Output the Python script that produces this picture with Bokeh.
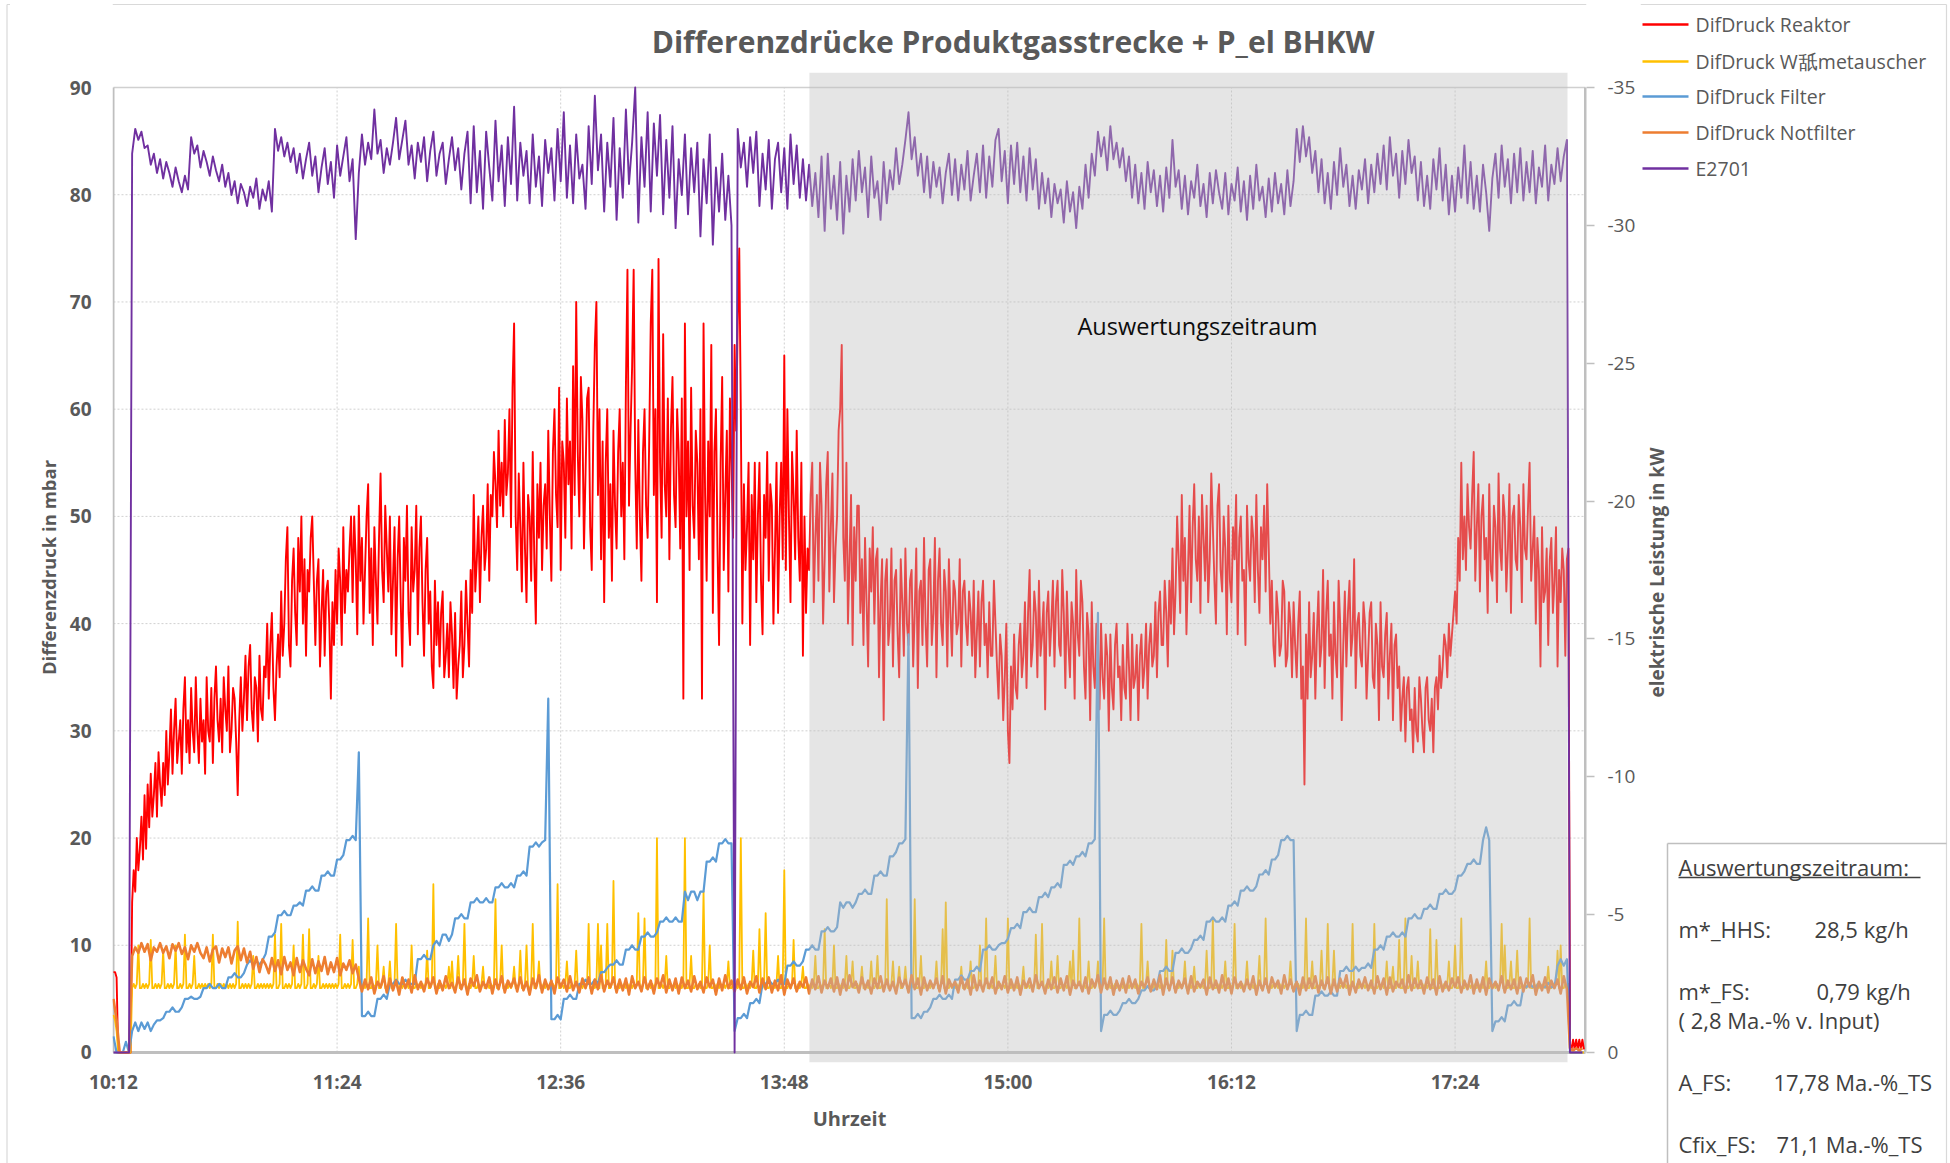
import math
from bokeh.plotting import figure
from bokeh.layouts import row, column
from bokeh.models import Range1d, LinearAxis, FixedTicker, BoxAnnotation, Label
from bokeh.embed import file_html
from bokeh.resources import INLINE
from bokeh.core.properties import value

# ---------------- texts / categories ----------------
TITLE = "Differenzdrücke Produktgasstrecke + P_el BHKW"
Y_LABEL = "Differenzdruck in mbar"
Y2_LABEL = "elektrische Leistung in kW"
X_LABEL = "Uhrzeit"
X_TICKS = [612, 684, 756, 828, 900, 972, 1044]          # minutes after midnight
X_TICK_LABELS = ["10:12", "11:24", "12:36", "13:48", "15:00", "16:12", "17:24"]
Y_TICKS = [0, 10, 20, 30, 40, 50, 60, 70, 80, 90]
Y2_TICKS = [-35, -30, -25, -20, -15, -10, -5, 0]
Y2_TICK_LABELS = ["-35", "-30", "-25", "-20", "-15", "-10", "-5", "0"]
SERIES_NAMES = ["DifDruck Reaktor", "DifDruck W舐metauscher", "DifDruck Filter",
                "DifDruck Notfilter", "E2701"]
COLORS = ["#FF0000", "#FFC000", "#5B9BD5", "#ED7D31", "#7030A0"]
EVAL_LABEL = "Auswertungszeitraum"
EVAL_START = 836.1     # minutes (13:56)
EVAL_END = 1080.2      # minutes (18:00)
BOX_TITLE = "Auswertungszeitraum:"
BOX_KEYS = ["m*_HHS:", "m*_FS:", "( 2,8 Ma.-% v. Input)", "A_FS:", "Cfix_FS:"]
BOX_VALUES = ["28,5 kg/h", "0,79 kg/h", "", "17,78 Ma.-%_TS", "71,1 Ma.-%_TS"]

T_START = 612          # 10:12
FAST_STEP = 0.5        # min
SLOW_STEP = 1.0        # min

# DifDruck Reaktor [mbar], every 30 s from 10:12
reaktor = [
 7.5,7.5,7,0,0,0,0,0,0,0,0,0,14,17,15,20,17,19,22,18,
 24,19,25,21,26,22,24,27,22,28,25,23,27,24,30,25,28,32,26,30,
 33,27,29,31,26,32,35,28,31,27,34,30,28,35,30,27,33,29,31,26,
 35,30,29,34,27,33,36,31,29,33,28,35,32,30,36,28,30,34,33,29,
 24,31,35,30,33,37,31,36,38,32,30,35,34,29,37,32,31,36,35,40,
 33,38,41,34,31,36,39,35,43,37,40,46,49,38,36,44,47,41,38,48,
 43,50,40,46,37,45,43,48,50,44,38,44,46,36,41,45,37,43,44,40,
 33,42,38,45,40,47,44,38,49,41,45,43,47,50,42,50,46,39,51,44,
 48,40,45,50,53,41,47,38,49,44,40,48,54,45,42,51,47,43,50,39,
 44,49,37,46,50,42,36,48,44,51,41,38,49,43,45,51,39,47,50,42,
 37,45,48,40,43,36,34,44,38,42,36,41,43,35,37,40,35,42,39,34,
 41,33,36,38,43,35,38,44,40,36,45,41,52,43,46,50,42,48,51,45,
 47,53,44,52,50,56,53,49,58,51,55,50,59,52,54,60,49,62,68,50,
 45,54,49,43,55,47,42,52,50,44,56,46,40,53,48,55,45,51,53,47,
 58,50,44,56,60,52,49,62,45,57,55,48,61,53,57,47,64,52,70,56,
 50,63,59,47,54,61,62,49,45,58,66,70,52,60,46,57,42,55,60,48,
 53,44,58,51,47,56,60,50,55,46,62,73,51,58,64,73,55,47,59,50,
 44,56,60,51,48,57,68,73,52,60,42,74,55,48,67,53,50,61,46,58,
 63,52,49,60,56,47,61,33,68,50,57,45,62,51,48,58,55,46,60,33,
 68,52,44,57,50,66,41,56,60,47,38,55,63,45,52,58,43,61,55,48,
 66,58,68,75,60,40,53,45,49,55,38,52,46,55,42,50,55,44,39,52,
 48,56,44,53,51,40,47,55,41,50,55,46,65,45,60,50,42,56,52,46,
 58,48,44,55,37,50,41,47,45,52,55,42,48,52,44,55,51,40,46,53,
 56,43,49,54,42,47,50,58,60,66,48,44,55,40,46,52,38,49,44,51,
 51,41,46,38,48,42,36,47,43,49,40,46,47,35,42,46,31,44,46,38,
 40,47,36,44,45,39,35,46,42,37,47,40,38,44,45,36,41,47,34,43,
 44,38,48,40,36,45,46,38,41,48,35,44,47,40,38,45,43,36,46,41,
 37,44,43,39,40,46,36,43,44,40,38,43,41,37,44,35,39,43,36,42,
 44,38,40,35,42,37,37,44,40,36,33,39,37,31,35,40,30,27,36,32,
 39,34,33,38,40,35,37,42,34,41,45,36,38,43,41,35,44,37,39,42,
 32,41,43,37,40,44,36,42,44,38,37,45,41,34,43,38,35,42,40,33,
 45,39,37,44,42,36,33,41,39,31,42,36,34,40,38,32,40,35,33,39,
 37,30,39,34,32,38,40,35,36,31,38,34,33,40,36,31,39,34,35,38,
 31,37,39,34,36,40,33,38,40,36,37,42,35,41,43,38,38,44,41,36,
 44,40,47,39,43,50,46,41,52,44,48,39,45,51,42,49,53,46,44,50,
 41,52,48,44,51,42,46,54,49,44,40,51,53,45,43,50,47,39,51,44,
 42,49,46,52,39,48,50,44,45,38,51,46,44,50,48,42,52,45,41,49,
 46,51,43,53,47,40,44,38,36,43,41,37,38,44,43,36,37,42,40,35,
 42,38,35,40,43,33,36,25,39,33,42,35,37,41,33,39,43,36,38,45,
 34,41,44,37,39,33,42,37,35,44,40,31,38,43,36,41,44,37,39,46,
 34,40,41,37,36,42,40,33,37,41,42,35,34,40,38,31,42,36,35,39,
 41,33,37,40,31,38,39,34,36,30,33,35,29,34,35,31,32,28,34,30,
 29,35,33,30,28,34,35,31,30,33,28,34,35,32,37,34,36,39,38,35,
 40,37,39,41,43,40,48,44,55,46,50,45,53,49,47,52,56,44,49,53,
 43,50,52,46,48,41,53,45,44,51,49,42,54,47,45,52,50,43,47,53,
 41,50,51,46,45,52,49,42,53,47,46,51,55,44,47,50,40,48,45,36,
 49,42,43,47,38,46,48,41,44,49,36,45,42,47,45,37,46,47,0.8,0.3,
 1.2,0.3,1.2,0.3,1.2,0.3,1.2,0.3,
]

# E2701 electrical power [kW], every minute from 10:12
e2701 = [
 0,0,0,0,0,0,
 -32.6,-33.5,-33.1,-33.4,-32.8,-32.9,-32.2,-32.6,-31.9,-32.4,
 -31.7,-32.3,-31.9,-31.4,-32.1,-31.6,-31.2,-31.8,-31.3,-33.2,
 -32.6,-32.9,-32.1,-32.7,-32.3,-31.8,-32.5,-32.0,-31.6,-32.2,
 -31.4,-31.9,-31.1,-31.6,-30.8,-31.5,-31.2,-30.7,-31.4,-31.0,
 -31.7,-30.6,-31.3,-30.9,-31.6,-30.5,-33.5,-32.7,-33.2,-32.5,
 -33.0,-32.3,-32.8,-31.9,-32.6,-31.7,-32.4,-33.0,-31.8,-32.5,
 -31.2,-32.1,-32.8,-31.5,-32.3,-31.0,-32.9,-31.8,-32.5,-33.2,
 -31.6,-32.4,-29.5,-31.9,-33.3,-32.2,-33.0,-32.4,-34.2,-32.6,
 -33.1,-31.9,-32.8,-32.2,-33.0,-33.9,-32.4,-33.1,-33.8,-32.2,
 -32.9,-31.7,-33.0,-32.3,-33.2,-31.6,-32.7,-33.4,-31.8,-32.6,
 -33.0,-31.5,-32.4,-33.2,-32.0,-32.8,-31.3,-32.6,-33.4,-30.8,
 -33.6,-31.2,-32.7,-30.6,-33.4,-32.1,-30.9,-33.8,-31.6,-32.9,
 -30.7,-33.2,-31.5,-34.3,-30.9,-33.0,-31.8,-32.7,-30.8,-33.3,
 -31.4,-32.5,-30.7,-33.1,-31.9,-32.8,-30.9,-33.5,-31.6,-34.1,
 -31.0,-32.9,-30.8,-33.3,-31.7,-32.2,-30.6,-33.6,-31.5,-34.7,
 -32.0,-33.3,-30.5,-33.0,-31.4,-33.9,-30.2,-32.8,-31.0,-34.2,
 -31.5,-33.0,-35.0,-30.1,-33.2,-31.4,-34.1,-30.5,-33.7,-31.8,
 -34.0,-30.4,-33.1,-31.0,-33.6,-29.9,-32.4,-31.1,-33.3,-30.4,
 -32.8,-31.2,-33.0,-29.6,-32.4,-30.8,-33.3,-29.3,-32.1,-30.5,
 -32.6,-30.2,-31.8,-30.0,0,-33.5,-32.1,-33.0,-31.4,-33.2,
 -31.9,-33.4,-30.7,-32.6,-31.3,-33.1,-30.6,-32.4,-33.0,-31.2,
 -32.8,-30.6,-33.3,-31.5,-32.9,-31.0,-32.4,-30.9,-32.2,-30.7,
 -31.9,-30.3,-32.5,-29.8,-32.6,-30.6,-31.8,-30.2,-32.3,-29.7,
 -31.8,-30.5,-32.4,-30.9,-32.7,-31.2,-32.1,-30.3,-32.5,-31.0,
 -31.6,-30.2,-32.3,-30.8,-32.0,-31.3,-32.8,-31.5,-32.2,-33.1,
 -34.1,-32.4,-33.2,-31.8,-32.6,-31.2,-32.5,-31.0,-32.3,-31.4,
 -32.1,-30.8,-31.9,-32.6,-31.1,-32.4,-30.9,-32.2,-31.3,-32.7,
 -30.9,-31.8,-32.6,-31.2,-32.9,-31.0,-32.5,-31.4,-33.1,-33.5,
 -31.6,-32.7,-30.8,-32.9,-31.5,-33.0,-31.2,-32.5,-30.9,-32.8,
 -31.3,-32.4,-30.6,-31.9,-30.8,-31.7,-30.3,-31.5,-30.8,-31.3,
 -30.1,-31.6,-30.5,-31.2,-29.9,-31.4,-30.6,-32.2,-31.0,-32.6,
 -31.8,-33.4,-32.5,-33.2,-32.0,-33.6,-32.4,-33.0,-32.1,-32.8,
 -31.6,-32.5,-31.0,-32.2,-30.8,-31.9,-30.6,-32.3,-31.2,-32.0,
 -30.7,-31.8,-30.5,-32.1,-31.0,-33.1,-31.4,-32.0,-30.6,-31.8,
 -30.4,-31.6,-31.0,-32.2,-30.7,-31.5,-30.3,-31.9,-30.8,-32.0,
 -31.2,-30.6,-31.9,-30.4,-31.5,-30.9,-32.1,-30.5,-31.6,-30.2,
 -31.8,-30.6,-32.2,-30.9,-31.4,-30.3,-31.7,-30.5,-31.9,-30.8,
 -31.5,-30.4,-32.0,-30.7,-31.6,-33.5,-32.3,-33.6,-32.5,-33.2,
 -31.9,-32.7,-31.2,-32.4,-30.8,-31.9,-30.6,-32.3,-31.1,-32.8,
 -31.4,-32.2,-30.7,-31.8,-30.6,-32.0,-31.3,-32.4,-30.8,-32.2,
 -31.2,-32.6,-31.5,-32.9,-31.3,-33.2,-31.8,-32.6,-31.0,-32.7,
 -31.5,-33.1,-31.9,-32.5,-30.9,-32.3,-30.7,-31.8,-30.6,-32.4,
 -31.3,-32.8,-30.9,-32.2,-30.4,-31.8,-30.5,-32.1,-31.0,-32.9,
 -30.8,-32.3,-30.6,-31.8,-30.5,-32.2,-31.2,-29.8,-31.7,-32.6,
 -31.0,-32.9,-31.4,-32.4,-30.8,-32.6,-31.2,-32.8,-30.9,-32.3,
 -31.2,-32.7,-30.8,-32.1,-31.4,-32.9,-30.9,-32.2,-31.5,-32.8,
 -31.6,-32.5,-33.1,0,
 0,0,0,0,
]

# DifDruck Filter [mbar], every minute from 10:12
filt = [
 1.5,0,0,0,1,0,2.0,2.8,2.0,2.8,
 2.2,2.8,2.0,2.6,3.0,3.0,3.2,3.8,3.8,4.2,
 3.8,3.8,4.2,5.0,5.0,5.2,5.0,5.0,5.2,6.0,
 6.0,6.4,6.0,6.0,6.4,6.0,6.0,7.0,7.0,7.4,
 7.0,7.0,7.4,8.2,8.6,8.2,8.6,8.2,8.6,9.2,
 10.8,10.8,11.2,12.8,12.8,13.2,12.8,12.8,13.7,13.7,
 14.0,13.7,15.1,15.1,15.5,15.1,15.1,16.5,16.5,16.9,
 16.5,16.5,18.0,18.0,18.4,19.8,19.8,20.2,19.8,28,
 3.4,3.4,3.8,3.4,3.4,5.0,5.0,5.4,5.0,6.4,
 6.4,6.8,6.4,6.4,6.8,6.4,6.4,6.4,8.7,8.7,
 9.1,8.7,8.7,10.0,10.4,10.0,11.0,11.0,10.4,11.0,
 12.5,12.5,12.9,12.5,12.5,14.0,14.0,14.4,14.0,14.0,
 14.4,14.0,14.0,15.4,15.4,15.8,15.4,15.4,15.8,15.4,
 16.5,16.5,16.9,16.5,19.2,19.2,19.6,19.2,19.6,19.8,
 33,3.1,3.1,3.5,3.1,5.0,5.0,5.4,5.0,5.0,
 6.4,6.4,6.8,6.4,6.4,6.8,6.4,7.5,7.5,7.9,
 8.2,8.2,8.6,8.2,8.2,9.6,9.6,10.0,9.6,9.6,
 10.8,10.8,11.2,10.8,10.8,11.2,12.2,12.2,12.6,12.2,
 12.2,12.6,12.2,12.2,15.0,14.2,15.0,15.0,14.2,15.0,
 15.0,17.8,17.8,18.2,17.8,19.5,19.5,19.9,19.5,19.5,
 2.0,3.2,3.2,3.6,3.2,4.6,4.6,5.0,4.6,6.4,
 6.4,6.8,6.4,6.4,6.8,6.4,6.4,8.1,8.1,8.5,
 8.1,8.1,8.5,9.6,9.6,10.0,9.6,9.6,11.3,11.3,
 11.7,11.3,11.3,11.7,14.0,13.5,14.0,14.0,13.5,14.0,
 14.8,14.8,15.2,14.8,14.8,16.5,16.5,16.9,16.5,16.5,
 18.3,18.3,18.7,19.5,19.5,19.9,39,3.2,3.2,3.6,
 3.2,3.8,3.8,4.2,5.0,5.0,5.4,5.0,5.0,5.4,
 5.0,6.8,6.8,7.2,6.8,6.8,7.6,7.6,8.0,7.6,
 9.6,9.6,10.0,9.6,9.6,10.0,10.2,10.2,10.6,11.6,
 11.6,12.0,11.6,13.1,13.1,13.5,13.1,13.1,14.5,14.5,
 14.9,14.5,15.4,15.4,15.8,15.4,17.5,17.5,17.9,17.5,
 18.3,18.3,18.7,18.3,19.5,19.5,19.9,41,2.0,3.5,
 3.5,3.9,3.5,3.5,3.9,4.6,4.6,5.0,4.6,4.6,
 5.0,5.8,5.8,6.2,5.8,5.8,6.2,7.6,7.6,8.0,
 7.6,7.6,9.3,9.3,9.7,9.3,9.3,9.7,10.5,10.5,
 10.9,10.5,12.2,12.2,12.6,12.2,12.2,12.6,12.2,13.7,
 13.7,14.1,13.7,15.1,15.1,15.5,15.1,15.1,15.5,16.6,
 16.6,17.0,16.6,18.0,18.0,18.4,19.8,19.8,20.2,19.8,
 19.8,2.0,3.5,3.5,3.9,3.5,3.5,5.3,5.3,5.7,
 5.3,5.3,5.7,5.3,5.3,7.6,7.6,8.0,7.6,7.6,
 8.0,7.6,7.9,7.9,8.3,7.9,9.6,9.6,10.0,9.6,
 10.8,10.8,11.2,10.8,10.8,11.2,10.8,12.5,12.5,12.9,
 12.5,12.5,13.4,13.4,13.8,13.4,13.4,14.8,14.8,15.2,
 14.8,14.8,15.2,16.5,16.5,16.9,17.6,17.6,18.0,17.6,
 17.6,19.8,21,19.8,2.0,2.9,2.9,3.3,2.9,4.4,
 4.4,4.8,4.4,4.4,6.1,6.1,6.5,6.1,6.1,6.5,
 6.1,6.1,6.5,6.1,6.1,8.1,8.7,8.1,8.7,0,
 0,0,0,0,
]

# DifDruck Waermetauscher [mbar], every 30 s from 10:12
waerme = [
 3.5,3.0,2,0,0,0,0,0,0,0,0,0,6.0,6.4,6.0,6.4,10,6.0,6.0,6.4,
 6.0,6.4,6.0,6.4,10.5,6.0,6.0,6.4,6.0,6.4,6.0,6.4,9.5,6.0,6.0,6.4,6.0,6.4,6.0,6.4,
 10,6.0,6.0,6.4,6.0,6.4,11,6.0,6.0,6.4,6.0,6.4,9,6.0,6.0,6.4,6.0,6.4,6.0,6.4,
 6.0,6.4,6.0,6.4,11,6.0,6.0,6.4,6.0,6.4,6.0,6.4,6.0,6.4,6.0,6.4,6.0,6.4,6.0,6.4,
 12.2,6.0,6.0,6.4,6.0,6.4,6.0,6.4,6.0,6.4,9,6.0,6.0,6.4,6.0,6.4,6.0,6.4,6.0,6.4,
 6.0,6.4,6.0,6.4,11,6.0,6.0,6.4,12,6.0,6.0,6.4,6.0,6.4,6.0,6.4,10,6.0,6.0,6.4,
 6.0,6.4,11,6.0,6.0,6.4,11.5,6.0,6.0,6.4,6.0,6.4,9,6.0,6.0,6.4,6.0,6.4,6.0,6.4,
 6.0,6.4,6.0,6.4,6.0,6.4,11,6.0,6.0,6.4,6.0,6.4,6.0,6.4,10.5,6.0,6.0,6.4,8,6.0,
 6.0,6.4,6.0,6.4,12.5,6.0,6.0,6.4,6.0,6.4,10,6.0,6.0,6.4,8,6.0,6.0,6.4,8.5,6.0,
 6.0,6.4,12,6.0,6.0,6.4,6.0,6.4,6.0,6.4,6.0,6.4,10,6.0,6.0,6.4,6.0,6.4,6.0,6.4,
 6.0,6.4,9.5,6.0,6.0,6.4,15.7,6.0,6.0,6.4,6.0,6.4,6.0,6.4,6.0,6.4,8,6.0,8.5,6.0,
 6.0,6.4,9,6.0,6.0,6.4,12,6.0,6.0,6.4,6.0,6.4,9,6.0,6.0,6.4,6.0,6.4,8,6.0,
 6.0,6.4,6.0,6.4,6.0,6.4,14.3,6.0,6.0,6.4,10,6.0,6.0,6.4,6.0,6.4,6.0,6.4,8,6.0,
 6.0,6.4,9.5,6.0,6.0,6.4,10,6.0,6.0,6.4,12,6.0,6.0,6.4,8.5,6.0,6.0,6.4,6.0,6.4,
 6.0,6.4,6.0,6.4,6.0,6.4,15.7,6.0,6.0,6.4,6.0,6.4,8.5,6.0,6.0,6.4,6.0,6.4,9.5,6.0,
 6.0,6.4,6.0,6.4,6.0,6.4,12,6.0,6.0,6.4,6.0,6.4,12,6.0,10,6.0,6.0,6.4,12,6.0,
 6.0,6.4,16,6.0,6.0,6.4,6.0,6.4,6.0,6.4,6.0,6.4,6.0,6.4,6.0,6.4,6.0,6.4,13,6.0,
 6.0,6.4,12.5,6.0,6.0,6.4,6.0,6.4,6.0,6.4,20,6.0,6.0,6.4,6.0,6.4,9,6.0,6.0,6.4,
 6.0,6.4,6.0,6.4,6.0,6.4,6.0,6.4,20,6.0,6.0,6.4,9,6.0,6.0,6.4,6.0,6.4,6.0,6.4,
 15,6.0,6.0,6.4,10,6.0,6.0,6.4,6.0,6.4,6.0,6.4,6.0,6.4,6.0,6.4,8.5,6.0,6.0,6.4,
 6.0,6.4,6.0,6.4,20,6.0,6.0,6.4,6.0,6.4,6.0,6.4,9.5,6.0,6.0,6.4,11.5,6.0,6.0,6.4,
 13,6.0,6.0,6.4,6.0,6.4,6.0,6.4,9,6.0,6.0,6.4,17,6.0,6.0,6.4,6.0,6.4,10.5,6.0,
 6.0,6.4,6.0,6.4,8,6.0,6.0,6.4,6.0,6.4,6.0,6.4,9,6.0,6.0,6.4,6.0,6.4,11.5,6.0,
 6.0,6.4,6.0,6.4,10,6.0,6.0,6.4,6.0,6.4,6.0,6.4,9,6.0,6.0,6.4,8.5,6.0,6.0,6.4,
 6.0,6.4,8,6.0,6.0,6.4,6.0,6.4,8.5,6.0,6.0,6.4,9,6.0,6.0,6.4,6.0,6.4,14.3,6.0,
 6.0,6.4,8.5,6.0,6.0,6.4,8,6.0,6.0,6.4,8,6.0,6.0,6.4,6.0,6.4,14.3,6.0,6.0,6.4,
 9,6.0,6.0,6.4,6.0,6.4,6.0,6.4,6.0,6.4,8.5,6.0,6.0,6.4,11.5,6.0,14,6.0,6.0,6.4,
 6.0,6.4,6.0,6.4,6.0,6.4,8,6.0,6.0,6.4,6.0,6.4,8.5,6.0,6.0,6.4,6.0,6.4,10,6.0,
 6.0,6.4,12.5,6.0,6.0,6.4,6.0,6.4,9,6.0,6.0,6.4,6.0,6.4,6.0,6.4,12.5,6.0,6.0,6.4,
 6.0,6.4,6.0,6.4,6.0,6.4,8,6.0,6.0,6.4,6.0,6.4,6.0,6.4,11,6.0,6.0,6.4,12,6.0,
 6.0,6.4,6.0,6.4,8.5,6.0,6.0,6.4,9,6.0,6.0,6.4,6.0,6.4,6.0,6.4,8.5,6.0,9.5,6.0,
 6.0,6.4,12.5,6.0,6.0,6.4,6.0,6.4,8.5,6.0,6.0,6.4,6.0,6.4,8.5,6.0,6.0,6.4,12.5,6.0,
 6.0,6.4,6.0,6.4,6.0,6.4,6.0,6.4,6.0,6.4,6.0,6.4,6.0,6.4,6.0,6.4,6.0,6.4,6.0,6.4,
 6.0,6.4,12,6.0,6.0,6.4,8.5,6.0,6.0,6.4,6.0,6.4,6.0,6.4,6.0,6.4,6.0,6.4,10.5,6.0,
 6.0,6.4,9.5,6.0,6.0,6.4,6.0,6.4,6.0,6.4,8.5,6.0,6.0,6.4,6.0,6.4,8,6.0,6.0,6.4,
 6.0,6.4,6.0,6.4,9.5,6.0,6.0,6.4,12.5,6.0,6.0,6.4,6.0,6.4,6.0,6.4,8.5,6.0,6.0,6.4,
 6.0,6.4,12,6.0,6.0,6.4,6.0,6.4,6.0,6.4,8.5,6.0,6.0,6.4,6.0,6.4,6.0,6.4,9,6.0,
 6.0,6.4,12.5,6.0,6.0,6.4,6.0,6.4,6.0,6.4,6.0,6.4,6.0,6.4,6.0,6.4,6.0,6.4,8.5,6.0,
 6.0,6.4,6.0,6.4,6.0,6.4,6.0,6.4,12.5,6.0,6.0,6.4,8.5,6.0,6.0,6.4,6.0,6.4,9.5,6.0,
 6.0,6.4,12,6.0,6.0,6.4,9.5,6.0,6.0,6.4,6.0,6.4,6.0,6.4,6.0,6.4,6.0,6.4,12,6.0,
 6.0,6.4,6.0,6.4,6.0,6.4,6.0,6.4,6.0,6.4,6.0,6.4,12,6.0,6.0,6.4,6.0,6.4,6.0,6.4,
 8.5,6.0,6.0,6.4,8,6.0,6.0,6.4,10.5,6.0,6.0,6.4,12.5,6.0,6.0,6.4,9,6.0,6.0,6.4,
 8.5,6.0,6.0,6.4,6.0,6.4,6.0,6.4,11.5,6.0,6.0,6.4,10.5,6.0,6.0,6.4,6.0,6.4,6.0,6.4,
 8.5,6.0,6.0,6.4,10,6.0,6.0,6.4,12.5,6.0,6.0,6.4,6.0,6.4,6.0,6.4,6.0,6.4,6.0,6.4,
 6.0,6.4,6.0,6.4,8.5,6.0,6.0,6.4,6.0,6.4,6.0,6.4,6.0,6.4,12,6.0,10,6.0,6.0,6.4,
 8.5,6.0,6.0,6.4,9.5,6.0,6.0,6.4,6.0,6.4,6.0,6.4,12.5,6.0,6.0,6.4,6.0,6.4,6.0,6.4,
 6.0,6.4,6.0,6.4,8,6.0,6.0,6.4,6.0,6.4,9.5,6.0,10,6.0,6.0,6.4,6.0,6.4,0,0,
 0,0,0,0,0,0,0,0,
]

# DifDruck Notfilter [mbar], every minute from 10:12
notfilter = [
 5,3,0,0,0,0,9.0,9.8,9.3,10.2,
 9.4,10.1,8.6,9.8,9.4,10.2,9.3,9.9,8.8,10.1,
 9.5,10.2,9.2,9.8,8.7,10.0,9.4,10.2,9.3,8.8,
 9.8,8.5,9.6,9.9,8.4,9.7,8.9,9.8,8.3,9.5,
 9.9,8.6,9.7,8.4,9.4,7.8,8.9,7.5,8.7,8.2,
 7.4,8.8,7.6,8.6,7.3,8.9,7.7,8.4,7.2,8.8,
 7.5,8.6,7.8,7.2,8.7,7.4,8.5,7.6,8.9,7.3,
 8.4,7.5,8.8,7.2,8.3,7.7,8.6,7.4,8.2,6.9,
 5.7,6.8,5.9,7.0,5.5,6.6,6.1,7.1,5.6,6.9,
 5.8,6.7,5.4,7.0,6.0,6.8,5.6,7.2,5.9,6.6,
 5.7,6.9,6.1,7.0,5.5,6.7,5.8,7.1,6.0,6.5,
 5.6,7.0,5.9,6.8,5.4,6.9,6.2,7.2,5.7,6.6,
 6.0,7.0,5.5,6.8,5.9,7.1,5.6,6.7,6.1,6.9,
 5.7,7.0,5.8,6.6,5.4,6.9,6.0,7.2,5.6,6.8,
 5.9,6.7,5.5,7.0,6.1,6.8,5.7,7.1,5.8,6.6,
 5.6,6.9,6.0,7.0,5.5,6.8,5.9,7.2,5.7,6.7,
 6.1,7.0,5.6,6.8,5.8,6.9,5.4,7.1,6.0,6.6,
 5.7,7.0,5.9,6.7,5.5,6.9,6.1,7.2,5.6,6.8,
 5.8,6.9,5.5,7.0,6.0,6.7,5.7,7.1,5.9,6.6,
 5.6,7.0,6.1,6.8,5.4,6.9,5.8,7.2,6.0,6.7,
 5.7,6.8,5.9,7.0,5.5,6.6,6.1,7.1,5.6,6.9,
 5.9,7.0,5.6,6.7,5.8,7.2,5.4,6.8,6.0,6.9,
 5.7,6.6,6.1,7.0,5.5,6.8,5.9,7.1,5.6,6.7,
 6.0,6.9,5.7,7.0,5.4,6.8,5.8,7.2,6.1,6.6,
 5.6,7.0,5.9,6.7,5.5,6.9,6.0,7.1,5.7,6.8,
 5.8,6.6,5.5,7.0,6.1,6.8,5.6,7.2,5.9,6.9,
 5.4,7.0,5.8,6.7,6.0,6.9,5.7,7.1,5.5,6.8,
 6.1,6.6,5.6,7.0,5.9,6.8,5.4,7.2,5.8,6.7,
 5.7,6.9,6.0,7.0,5.5,6.6,5.9,7.1,5.6,6.8,
 5.8,7.0,5.4,6.7,6.1,6.9,5.7,7.2,6.0,6.6,
 5.5,6.8,5.9,7.0,5.6,6.9,5.8,7.1,5.4,6.7,
 6.0,6.6,5.7,7.0,5.5,6.8,6.1,7.2,5.6,6.9,
 5.9,7.0,5.4,6.7,5.8,6.9,5.6,7.1,6.0,6.8,
 5.5,6.6,6.1,7.0,5.7,6.8,5.9,7.2,5.4,6.9,
 5.8,7.0,5.6,6.7,6.0,6.9,5.5,7.1,5.7,6.6,
 6.1,6.8,5.4,7.0,5.9,6.7,5.6,7.2,5.8,6.9,
 5.5,7.0,6.0,6.6,5.7,6.8,5.9,7.1,5.4,6.7,
 5.8,6.9,5.6,7.0,6.1,6.7,5.5,7.2,5.9,6.8,
 5.7,6.6,5.4,7.0,5.8,6.9,6.0,7.1,5.6,6.7,
 5.9,7.0,5.5,6.8,5.7,6.9,6.1,7.2,5.4,6.6,
 5.6,6.8,6.0,7.0,5.8,6.7,5.5,7.1,5.9,6.9,
 5.4,7.0,5.7,6.6,6.1,6.8,5.6,7.2,5.8,6.9,
 6.0,6.7,5.5,7.0,5.9,6.8,5.4,7.1,5.7,6.6,
 5.8,6.9,6.1,7.0,5.6,6.7,5.9,7.2,5.5,6.8,
 5.7,7.0,5.4,6.9,6.0,6.6,5.8,7.1,5.6,6.7,
 5.9,6.8,5.5,7.0,5.7,6.9,6.1,7.2,5.4,6.6,
 5.8,7.0,5.6,6.7,6.0,6.8,5.5,7.1,5.9,0.4,
 0.2,0.4,0.2,0.4,
]

# time grids (sampling instants)
t_reaktor = [T_START + FAST_STEP * i for i in range(len(reaktor))]
t_waerme = [T_START + FAST_STEP * i for i in range(len(waerme))]
t_e2701 = [T_START + SLOW_STEP * i for i in range(len(e2701))]
t_filt = [T_START + SLOW_STEP * i for i in range(len(filt))]
t_not = [T_START + SLOW_STEP * i for i in range(len(notfilter))]

# ---------------- layout geometry (page px) ----------------
W_ALL, H_ALL = 1950, 1163
W_LEFT = 10
X_SPLIT = 1640                       # right edge of title strip / main plot
W_MAIN = X_SPLIT - W_LEFT
H_TOP = 72
F_L, F_R, F_T, F_B = 112, 1586, 72, 1062     # plot frame in page px
X_MIN, X_MAX = 612, 1086
X_LO, X_HI = 611.68, 1086.32
Y_LO, Y_HI = -0.933, 91.40
K_LO, K_HI = 0.3627, -35.544
Y_MIN, Y_MAX = 0, 90

def px_x(page_x):
    return X_LO + (page_x - F_L) * (X_HI - X_LO) / (F_R - F_L)

def px_y(page_y):
    return Y_LO + (F_B - page_y) * (Y_HI - Y_LO) / (F_B - F_T)

GRAY_TXT = "#595959"
FONT = "Open Sans"
BORDER = "#D9D9D9"

def strip(width, height, x0):
    f = figure(width=width, height=height, x_range=Range1d(x0, x0 + width),
               y_range=Range1d(height, 0), x_axis_type=None, y_axis_type=None,
               output_backend="svg", toolbar_location=None, min_border=0)
    f.outline_line_color = None
    return f

# ---------------- left strip: outer border ----------------
pl = strip(W_LEFT, H_ALL, 0)
pl.segment(x0=[6.5, 6.5], y0=[4, 4], x1=[6.5, W_LEFT], y1=[H_ALL, 4], line_color=BORDER, line_width=1.2)

# ---------------- title strip ----------------
pt = strip(W_MAIN, H_TOP, W_LEFT)
pt.text(x=[1006], y=[41], text=[TITLE], text_font=value(FONT), text_font_size="30px",
        text_font_style="bold", text_color=GRAY_TXT, text_align="center", text_baseline="middle")
pt.segment(x0=[W_LEFT], y0=[4], x1=[X_SPLIT], y1=[4], line_color=BORDER, line_width=1.2)

# ---------------- main plot ----------------
H_MAIN = H_ALL - H_TOP
p = figure(width=W_MAIN, height=H_MAIN, x_range=Range1d(X_LO, X_HI), y_range=Range1d(Y_LO, Y_HI),
           output_backend="svg", toolbar_location=None,
           min_border_left=F_L - W_LEFT, min_border_right=X_SPLIT - F_R,
           min_border_top=F_T - H_TOP, min_border_bottom=H_ALL - F_B)
p.extra_y_ranges = {"kw": Range1d(K_LO, K_HI)}
p.outline_line_color = None
p.grid.visible = False
p.background_fill_color = "white"
p.border_fill_color = "white"

xa = p.xaxis[0]
xa.ticker = FixedTicker(ticks=X_TICKS)
xa.major_label_overrides = dict(zip(X_TICKS, X_TICK_LABELS))
xa.axis_line_color = None
xa.major_tick_line_color = None
xa.major_tick_out = 0
xa.major_tick_in = 0
xa.minor_tick_line_color = None
xa.major_label_standoff = 6
xa.major_label_text_font = FONT
xa.major_label_text_font_size = "19px"
xa.major_label_text_font_style = "bold"
xa.major_label_text_color = GRAY_TXT
xa.axis_label = X_LABEL
xa.axis_label_text_font = FONT
xa.axis_label_text_font_size = "20px"
xa.axis_label_text_font_style = "bold"
xa.axis_label_text_color = GRAY_TXT
xa.axis_label_standoff = 7

ya = p.yaxis[0]
ya.ticker = FixedTicker(ticks=Y_TICKS)
ya.axis_line_color = None
ya.major_tick_line_color = None
ya.major_tick_out = 0
ya.major_tick_in = 0
ya.minor_tick_line_color = None
ya.major_label_standoff = 21
ya.major_label_text_font = FONT
ya.major_label_text_font_size = "19px"
ya.major_label_text_font_style = "bold"
ya.major_label_text_color = GRAY_TXT
ya.axis_label = Y_LABEL
ya.axis_label_text_font = FONT
ya.axis_label_text_font_size = "18.5px"
ya.axis_label_text_font_style = "bold"
ya.axis_label_text_color = GRAY_TXT
ya.axis_label_standoff = 6

ra = LinearAxis(y_range_name="kw", ticker=FixedTicker(ticks=Y2_TICKS))
ra.major_label_overrides = dict(zip(Y2_TICKS, Y2_TICK_LABELS))
ra.axis_line_color = None
ra.major_tick_out = 8
ra.major_tick_in = 0
ra.major_tick_line_color = "#BFBFBF"
ra.major_tick_line_width = 1.5
ra.minor_tick_line_color = None
ra.major_label_standoff = 13
ra.major_label_text_font = FONT
ra.major_label_text_font_size = "19px"
ra.major_label_text_color = GRAY_TXT
p.add_layout(ra, "right")

# gridlines (dotted) and plot-area border
p.multi_line(xs=[[t, t] for t in X_TICKS[1:]], ys=[[Y_MIN, Y_MAX] for _ in X_TICKS[1:]],
             line_color="#D0D0D0", line_dash="2 2", line_width=1, level="underlay")
p.multi_line(xs=[[X_MIN, X_MAX] for _ in Y_TICKS[1:-1]], ys=[[v, v] for v in Y_TICKS[1:-1]],
             line_color="#D0D0D0", line_dash="2 2", line_width=1, level="underlay")
p.segment(x0=[X_MIN], y0=[Y_MAX], x1=[X_MAX], y1=[Y_MAX], line_color="#D0D0D0", line_width=1.5, level="underlay")
p.segment(x0=[X_MIN], y0=[Y_MIN], x1=[X_MIN], y1=[Y_MAX], line_color="#BFBFBF", line_width=2, level="underlay")
p.segment(x0=[X_MAX], y0=[Y_MIN], x1=[X_MAX], y1=[Y_MAX], line_color="#BFBFBF", line_width=3, level="underlay")
p.segment(x0=[X_MIN], y0=[Y_MIN], x1=[X_MAX], y1=[Y_MIN], line_color="#BFBFBF", line_width=3, level="underlay")

# series
p.line(t_reaktor, reaktor, line_color=COLORS[0], line_width=1.9, line_join="round")
p.line(t_waerme, waerme, line_color=COLORS[1], line_width=1.8, line_join="round")
p.line(t_filt, filt, line_color=COLORS[2], line_width=2.2, line_join="round")
p.line(t_not, notfilter, line_color=COLORS[3], line_width=2.6, line_join="round")
p.line(t_e2701, e2701, line_color=COLORS[4], line_width=1.9, line_join="round", y_range_name="kw")

# evaluation period shading (on top, semi-transparent)
p.add_layout(BoxAnnotation(left=EVAL_START, right=EVAL_END, fill_color="#BFBFBF",
                           fill_alpha=0.4, line_color=None))
p.add_layout(Label(x=px_x(1197), y=px_y(325), text=EVAL_LABEL, text_align="center",
                   text_baseline="middle", text_font=FONT, text_font_size="23.5px",
                   text_color="#0D0D0D"))

# ---------------- side strip: axis title, legend, text box ----------------
ps = strip(W_ALL - X_SPLIT, H_ALL, X_SPLIT)

ps.text(x=[1656], y=[572], text=[Y2_LABEL], angle=math.pi / 2, text_font=value(FONT),
        text_font_size="19px", text_font_style="bold", text_color=GRAY_TXT,
        text_align="center", text_baseline="middle")

LEG_Y = [24, 61, 96, 132, 168]
ps.segment(x0=[1642] * len(LEG_Y), y0=LEG_Y, x1=[1688] * len(LEG_Y), y1=LEG_Y,
           line_color=COLORS, line_width=2.5)
ps.text(x=[1695] * len(LEG_Y), y=LEG_Y, text=SERIES_NAMES, text_font=value(FONT),
        text_font_size="19.5px", text_color=GRAY_TXT, text_align="left", text_baseline="middle")

# outer chart border (top / right)
ps.segment(x0=[X_SPLIT, 1946], y0=[4, 4], x1=[1946, 1946], y1=[4, H_ALL],
           line_color=BORDER, line_width=1.2)

# text box
ps.segment(x0=[1667, 1667], y0=[843, 843], x1=[1946, 1667], y1=[843, H_ALL],
           line_color="#BFBFBF", line_width=1.5)
BOX_FONT = "22px"
BOX_COL = "#404040"
ps.text(x=[1678], y=[866], text=[BOX_TITLE], text_font=value(FONT), text_font_size=BOX_FONT,
        text_color=BOX_COL, text_align="left", text_baseline="middle")
ps.segment(x0=[1678], y0=[877], x1=[1920], y1=[877], line_color=BOX_COL, line_width=1.5)
ROW_Y = [928, 990, 1019, 1081, 1143]
VAL_X = [1814, 1816, 0, 1773, 1776]
ps.text(x=[1678] * len(BOX_KEYS), y=ROW_Y, text=BOX_KEYS, text_font=value(FONT),
        text_font_size=BOX_FONT, text_color=BOX_COL, text_align="left", text_baseline="middle")
vals = [(vx, ry, v) for vx, ry, v in zip(VAL_X, ROW_Y, BOX_VALUES) if v]
ps.text(x=[a for a, _, _ in vals], y=[b for _, b, _ in vals], text=[c for _, _, c in vals],
        text_font=value(FONT), text_font_size=BOX_FONT, text_color=BOX_COL,
        text_align="left", text_baseline="middle")

layout = row(pl, column(pt, p, spacing=0), ps, spacing=0)
open("out.html", "w").write(file_html(layout, INLINE))
